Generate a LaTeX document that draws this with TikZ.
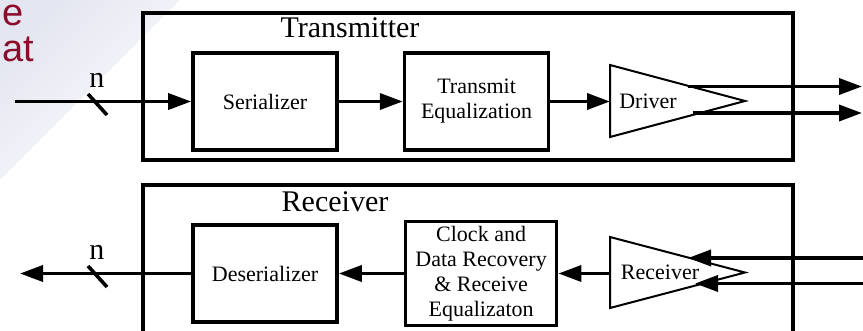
\documentclass[tikz,border=0pt]{standalone}
\usepackage{fontspec}
\setmainfont{Liberation Serif}
\newfontfamily\slidefont{Liberation Sans}
\usetikzlibrary{arrows.meta, positioning}
\definecolor{slidered}{HTML}{8B0D2B}
\definecolor{slidetint}{HTML}{E3E5F0}

\begin{document}
\begin{tikzpicture}[x=0.5pt, y=-0.5pt, line width=1.8pt,
    >={Triangle[length=11.5pt, width=8pt]},
    block/.style={draw, minimum width=72pt, minimum height=48.5pt, inner sep=1pt,
        align=center, font=\fontsize{11}{12.5}\selectfont},
    title/.style={font=\fontsize{15}{18}\selectfont},
    buslabel/.style={anchor=base, inner sep=0pt, font=\fontsize{15}{18}\selectfont},
    amp/.style={line width=1pt, line join=miter},
    frame/.style={line width=2pt},
    slide/.style={anchor=north west, inner sep=0pt, align=left, text=slidered,
        font=\slidefont\fontsize{19}{18}\selectfont}]
    \useasboundingbox (0,0) rectangle (863,331);
    \clip (0,0) rectangle (863,331);

    % Slide background
    \shade[top color=slidetint, bottom color=white, shading angle=45]
        (0,0) -- (180,0) -- (0,180) -- cycle;
    \node[slide] (head) at (1,3) {e\\at};

    % Transmitter
    \draw[frame] (143,13) rectangle (793,160);
    \node[title] (txlbl) at (350,27.5) {Transmitter};
    \node[block] (ser) at (265,101.5) {Serializer};
    \node[block, right=32pt of ser] (teq) {Transmit\\Equalization};
    \draw[amp] (610,65) -- (745,101) -- (610,137) -- cycle;
    \node[font=\fontsize{11}{12.5}\selectfont] (drvlbl) at (648,101.5) {Driver};
    \coordinate (drv) at (610,101.5);
    \coordinate (drvp) at (688,86.5);
    \coordinate (drvn) at (693,113);
    \coordinate (in) at (15,101.5);
    \coordinate (txp) at (862,86.5);
    \coordinate (txn) at (862,113);

    % Receiver
    \draw[frame] (143,185) rectangle (793,360);
    \node[title] (rxlbl) at (335,201.5) {Receiver};
    \node[block] (des) at (265,273.5) {Deserializer};
    \node[block, minimum width=75.5pt, minimum height=52pt, right=32.5pt of des] (cdr)
        {Clock and\\Data Recovery\\\& Receive\\Equalizaton};
    \draw[amp] (610,237) -- (745,272.5) -- (610,308) -- cycle;
    \node[font=\fontsize{11}{12.5}\selectfont] (rcvlbl) at (660,272.5) {Receiver};
    \coordinate (rcv) at (610,273.5);
    \coordinate (rcvp) at (688,258);
    \coordinate (rcvn) at (695,283.5);
    \coordinate (out) at (20,273.5);
    \coordinate (rxp) at (863,258);
    \coordinate (rxn) at (863,283.5);

    % Connections
    \draw[->] (in) -- (ser.west);
    \draw[->] (ser) -- (teq);
    \draw[->] (teq) -- (drv);
    \draw[->] (drvp) -- (txp);
    \draw[->] (drvn) -- (txn);
    \draw[->] (rxp) -- (rcvp);
    \draw[->] (rxn) -- (rcvn);
    \draw[->] (rcv) -- (rcv -| cdr.east);
    \draw[->] (cdr) -- (des);
    \draw[->] (des.west) -- (out);

    % Bus width marks
    \draw (88,94) -- (107,115);
    \node[buslabel] (nin) at (97,88) {n};
    \draw (88,266) -- (107,287);
    \node[buslabel] (nout) at (97,260) {n};

    \end{tikzpicture}
\end{document}
